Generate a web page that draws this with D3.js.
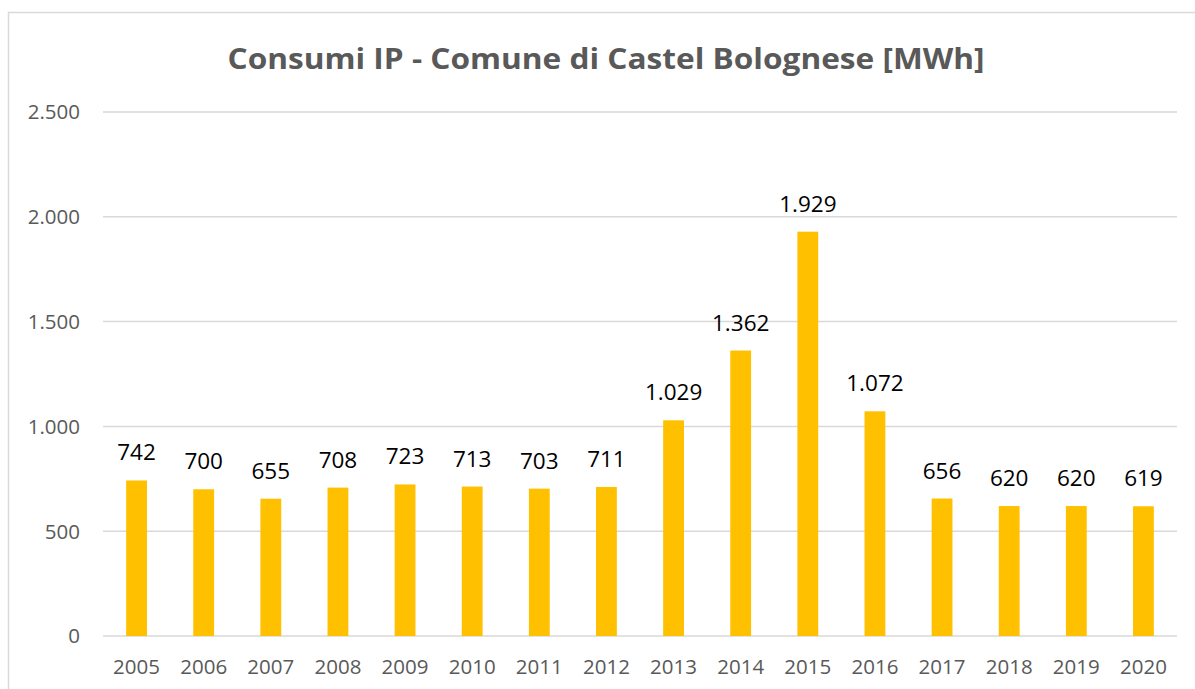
<!DOCTYPE html>
<html>
<head>
<meta charset="utf-8">
<script src="https://cdn.jsdelivr.net/npm/d3@7"></script>
<style>
  body { margin: 0; background: #fff; }
  svg { display: block; }
  text { font-family: "Open Sans", "DejaVu Sans", sans-serif; }
</style>
</head>
<body>
<div id="vis"></div>
<script>
// data
var years = ["2005", "2006", "2007", "2008", "2009", "2010", "2011", "2012",
             "2013", "2014", "2015", "2016", "2017", "2018", "2019", "2020"];
var consumi = [742, 700, 655, 708, 723, 713, 703, 711,
               1029, 1362, 1929, 1072, 656, 620, 620, 619];
var yTicks = [0, 500, 1000, 1500, 2000, 2500];
var title = "Consumi IP - Comune di Castel Bolognese [MWh]";

var width = 1195, height = 689;
var plot = { left: 103, right: 1177, top: 112, bottom: 636 };

// italian thousands separator
var fmt = d3.formatLocale({ decimal: ",", thousands: ".", grouping: [3], currency: ["", "€"] }).format(",d");

var svg = d3.select("#vis").append("svg")
    .attr("width", width)
    .attr("height", height);

// chart frame
svg.append("rect")
    .attr("x", 8.5).attr("y", 12.5)
    .attr("width", 1196).attr("height", 700)
    .attr("fill", "#fff")
    .attr("stroke", "#d9d9d9")
    .attr("stroke-width", 1.5);

var x = d3.scaleBand()
    .domain(years)
    .range([plot.left, plot.right])
    .paddingInner(0.69)
    .paddingOuter(0.345);

var y = d3.scaleLinear()
    .domain([0, 2500])
    .range([plot.bottom, plot.top]);

// gridlines
svg.append("g")
    .selectAll("line")
    .data(yTicks)
    .enter().append("line")
    .attr("x1", plot.left)
    .attr("x2", plot.right)
    .attr("y1", d => y(d))
    .attr("y2", d => y(d))
    .attr("stroke", "#d9d9d9")
    .attr("stroke-width", 1.5);

// y labels
svg.append("g")
    .selectAll("text")
    .data(yTicks)
    .enter().append("text")
    .attr("x", 80)
    .attr("y", d => y(d))
    .attr("dy", "0.36em")
    .attr("text-anchor", "end")
    .attr("fill", "#595959")
    .attr("font-size", 20.5)
    .text(d => fmt(d));

// bars
svg.append("g")
    .selectAll("rect")
    .data(consumi)
    .enter().append("rect")
    .attr("x", (d, i) => x(years[i]))
    .attr("width", x.bandwidth())
    .attr("y", d => y(d))
    .attr("height", d => y(0) - y(d))
    .attr("fill", "#ffc000");

// value labels
svg.append("g")
    .selectAll("text")
    .data(consumi)
    .enter().append("text")
    .attr("x", (d, i) => x(years[i]) + x.bandwidth() / 2)
    .attr("y", d => y(d) - 20)
    .attr("text-anchor", "middle")
    .attr("fill", "#000")
    .attr("font-size", 22.5)
    .text(d => fmt(d));

// x labels
svg.append("g")
    .selectAll("text")
    .data(years)
    .enter().append("text")
    .attr("x", d => x(d) + x.bandwidth() / 2)
    .attr("y", 674)
    .attr("text-anchor", "middle")
    .attr("fill", "#595959")
    .attr("font-size", 20.5)
    .text(d => d);

// title
svg.append("text")
    .attr("x", 606)
    .attr("y", 69)
    .attr("text-anchor", "middle")
    .attr("fill", "#595959")
    .attr("font-size", 29)
    .attr("font-weight", "bold")
    .attr("textLength", 757)
    .attr("lengthAdjust", "spacingAndGlyphs")
    .text(title);
</script>
</body>
</html>
